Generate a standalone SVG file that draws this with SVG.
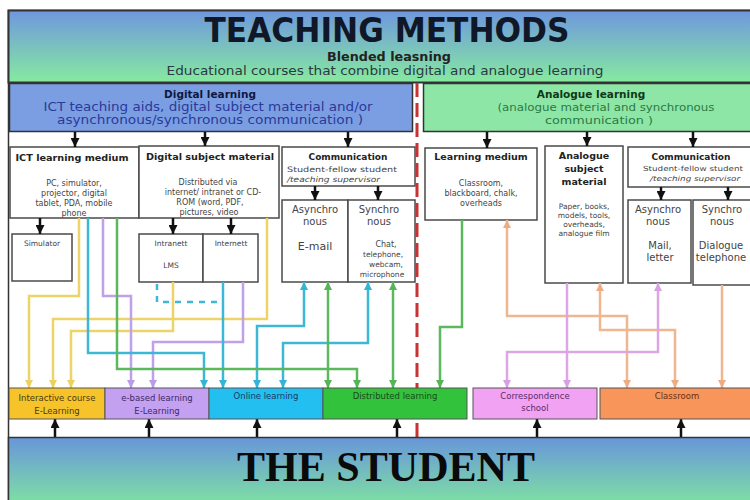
<svg xmlns="http://www.w3.org/2000/svg" width="750" height="500" viewBox="0 0 750 500">
<defs>
<linearGradient id="gHead" x1="0" y1="0" x2="0" y2="1"><stop offset="0" stop-color="#6f97de"/><stop offset="1" stop-color="#86eaa0"/></linearGradient>
<linearGradient id="gStu" x1="0" y1="0" x2="0" y2="1"><stop offset="0" stop-color="#6896da"/><stop offset="1" stop-color="#80e4a0"/></linearGradient>
<marker id="mk" viewBox="0 0 10 10" refX="10" refY="5" markerWidth="10" markerHeight="9" markerUnits="userSpaceOnUse" orient="auto"><path d="M0,0 L10,5 L0,10 z" fill="#111"/></marker>
<marker id="my" viewBox="0 0 10 10" refX="10" refY="5" markerWidth="8" markerHeight="8" markerUnits="userSpaceOnUse" orient="auto-start-reverse"><path d="M0,0 L10,5 L0,10 z" fill="#ecd060"/></marker>
<marker id="mp" viewBox="0 0 10 10" refX="10" refY="5" markerWidth="8" markerHeight="8" markerUnits="userSpaceOnUse" orient="auto-start-reverse"><path d="M0,0 L10,5 L0,10 z" fill="#bb9ae6"/></marker>
<marker id="mc" viewBox="0 0 10 10" refX="10" refY="5" markerWidth="8" markerHeight="8" markerUnits="userSpaceOnUse" orient="auto-start-reverse"><path d="M0,0 L10,5 L0,10 z" fill="#34b4d4"/></marker>
<marker id="mg" viewBox="0 0 10 10" refX="10" refY="5" markerWidth="8" markerHeight="8" markerUnits="userSpaceOnUse" orient="auto-start-reverse"><path d="M0,0 L10,5 L0,10 z" fill="#55b455"/></marker>
<marker id="mo" viewBox="0 0 10 10" refX="10" refY="5" markerWidth="8" markerHeight="8" markerUnits="userSpaceOnUse" orient="auto-start-reverse"><path d="M0,0 L10,5 L0,10 z" fill="#eeac84"/></marker>
<marker id="mq" viewBox="0 0 10 10" refX="10" refY="5" markerWidth="8" markerHeight="8" markerUnits="userSpaceOnUse" orient="auto-start-reverse"><path d="M0,0 L10,5 L0,10 z" fill="#d8a0e2"/></marker>
<style>
.box{fill:#fff;stroke:#4a4a4a;stroke-width:1.5}
.t{font-family:"DejaVu Sans","Liberation Sans",sans-serif;text-anchor:middle;fill:#444}
.b{font-weight:bold;fill:#222}
.blk{stroke:#111;stroke-width:2.5;fill:none;marker-end:url(#mk)}
.c{fill:none;stroke-width:2.5;stroke-linejoin:miter}
.y{stroke:#ecd468}
.p{stroke:#c0a0e8}
.cy{stroke:#3cb8d6}
.g{stroke:#5cb85c}
.o{stroke:#f0b690}
.q{stroke:#dca6e4}
.cat{stroke:#555;stroke-width:1}
</style>
</defs>
<rect width="750" height="500" fill="#fff"/>
<rect x="8.5" y="10.5" width="760" height="500" fill="none" stroke="#333" stroke-width="1.5"/>

<g id="header">
<rect x="8.5" y="10.5" width="760" height="72" fill="url(#gHead)" stroke="#333" stroke-width="2"/>
<text class="t" x="387" y="42" font-size="33" font-weight="bold" fill="#101828" style="fill:#101828" textLength="365" lengthAdjust="spacingAndGlyphs">TEACHING METHODS</text>
<text class="t b" x="389" y="61" font-size="11.5" textLength="124" lengthAdjust="spacingAndGlyphs">Blended leasning</text>
<text class="t" x="385" y="75" font-size="12" style="fill:#2a3a40" textLength="437" lengthAdjust="spacingAndGlyphs">Educational courses that combine digital and analogue learning</text>
</g>

<g id="digital-learning">
<rect x="9.5" y="83.5" width="403" height="48" fill="#7b9ee2" stroke="#333" stroke-width="1.5"/>
<text class="t b" x="210" y="98" font-size="10.5" style="fill:#101840">Digital learning</text>
<text class="t" x="208" y="111" font-size="11.5" style="fill:#2a3a9a" textLength="329" lengthAdjust="spacingAndGlyphs">ICT teaching aids, digital subject material and/or</text>
<text class="t" x="210" y="124" font-size="11.5" style="fill:#2a3a9a" textLength="306" lengthAdjust="spacingAndGlyphs">asynchronous/synchronous communication )</text>
</g>

<g id="analogue-learning">
<rect x="423.5" y="83.5" width="340" height="48" fill="#8ee6a6" stroke="#333" stroke-width="1.5"/>
<text class="t b" x="591" y="98" font-size="10.5" style="fill:#103818">Analogue learning</text>
<text class="t" x="606" y="111" font-size="11" style="fill:#2a7a44" textLength="217" lengthAdjust="spacingAndGlyphs">(analogue material and synchronous</text>
<text class="t" x="599" y="124" font-size="11" style="fill:#2a7a44" textLength="108" lengthAdjust="spacingAndGlyphs">communication )</text>
</g>

<g id="ict-learning-medium">
<rect class="box" x="10" y="147" width="129" height="71"/>
<text class="t b" x="72" y="161" font-size="9" textLength="113" lengthAdjust="spacingAndGlyphs">ICT learning medium</text>
<text class="t" x="74" y="186" font-size="8">PC, simulator,</text>
<text class="t" x="74" y="196" font-size="8">projector, digital</text>
<text class="t" x="74" y="206" font-size="8">tablet, PDA, mobile</text>
<text class="t" x="74" y="216" font-size="8">phone</text>
</g>

<g id="digital-subject-material">
<rect class="box" x="139" y="146" width="140" height="72"/>
<text class="t b" x="210" y="160" font-size="8.5" textLength="128" lengthAdjust="spacingAndGlyphs">Digital subject material</text>
<text class="t" x="208" y="185" font-size="8">Distributed via</text>
<text class="t" x="213" y="195" font-size="8">internet/ intranet or CD-</text>
<text class="t" x="210" y="205" font-size="8">ROM (word, PDF,</text>
<text class="t" x="209" y="215" font-size="8">pictures, video</text>
</g>

<g id="communication-digital">
<rect class="box" x="282" y="147" width="133" height="39"/>
<text class="t b" x="348" y="160" font-size="9">Communication</text>
<text class="t" x="287" y="172" font-size="7.5" style="text-anchor:start" textLength="110" lengthAdjust="spacingAndGlyphs">Student-fellow student</text>
<text class="t" x="287" y="182" font-size="7.5" style="text-anchor:start;font-style:italic" textLength="93" lengthAdjust="spacingAndGlyphs">/teaching supervisor</text>
</g>

<g id="simulator">
<rect class="box" x="12" y="234" width="60" height="47"/>
<text class="t" x="42" y="246" font-size="7.5">Simulator</text>
</g>

<g id="intranet">
<rect class="box" x="139" y="234" width="64" height="48"/>
<text class="t" x="171" y="246" font-size="7.5">Intranett</text>
<text class="t" x="171" y="268" font-size="7.5">LMS</text>
</g>

<g id="internet">
<rect class="box" x="203" y="234" width="55" height="48"/>
<text class="t" x="231" y="246" font-size="7.5">Internett</text>
</g>

<g id="asynchronous-digital">
<rect class="box" x="282" y="200" width="66" height="82"/>
<text class="t" x="315" y="213" font-size="10">Asynchro</text>
<text class="t" x="315" y="225" font-size="10">nous</text>
<text class="t" x="315" y="250" font-size="11">E-mail</text>
</g>

<g id="synchronous-digital">
<rect class="box" x="348" y="200" width="67" height="82"/>
<text class="t" x="379" y="213" font-size="10">Synchro</text>
<text class="t" x="379" y="225" font-size="10">nous</text>
<text class="t" x="386" y="247" font-size="8">Chat,</text>
<text class="t" x="383" y="257" font-size="7.5">telephone,</text>
<text class="t" x="386" y="267" font-size="7.5">webcam,</text>
<text class="t" x="382" y="277" font-size="7.5">microphone</text>
</g>

<g id="learning-medium">
<rect class="box" x="425" y="148" width="112" height="72"/>
<text class="t b" x="481" y="160" font-size="9.5">Learning medium</text>
<text class="t" x="481" y="186" font-size="8">Classroom,</text>
<text class="t" x="481" y="196" font-size="8">blackboard, chalk,</text>
<text class="t" x="481" y="206" font-size="8">overheads</text>
</g>

<g id="analogue-subject-material">
<rect class="box" x="545" y="146" width="78" height="137"/>
<text class="t b" x="584" y="159" font-size="9.5">Analogue</text>
<text class="t b" x="584" y="172" font-size="9.5">subject</text>
<text class="t b" x="584" y="185" font-size="9.5">material</text>
<text class="t" x="584" y="209" font-size="7.5">Paper, books,</text>
<text class="t" x="584" y="218" font-size="7.5">models, tools,</text>
<text class="t" x="584" y="227" font-size="7.5">overheads,</text>
<text class="t" x="584" y="236" font-size="7.5">analogue film</text>
</g>

<g id="communication-analogue">
<rect class="box" x="628" y="147" width="130" height="40"/>
<text class="t b" x="691" y="160" font-size="9">Communication</text>
<text class="t" x="693" y="171" font-size="7" textLength="100" lengthAdjust="spacingAndGlyphs">Student-fellow student</text>
<text class="t" x="695" y="181" font-size="7" style="font-style:italic" textLength="90" lengthAdjust="spacingAndGlyphs">/teaching supervisor</text>
</g>

<g id="asynchronous-analogue">
<rect class="box" x="628" y="200" width="63" height="83"/>
<text class="t" x="658" y="213" font-size="10">Asynchro</text>
<text class="t" x="658" y="225" font-size="10">nous</text>
<text class="t" x="660" y="249" font-size="10">Mail,</text>
<text class="t" x="660" y="261" font-size="10">letter</text>
</g>

<g id="synchronous-analogue">
<rect class="box" x="693" y="200" width="65" height="85"/>
<text class="t" x="722" y="213" font-size="10">Synchro</text>
<text class="t" x="722" y="225" font-size="10">nous</text>
<text class="t" x="721" y="249" font-size="10">Dialogue</text>
<text class="t" x="721" y="261" font-size="10">telephone</text>
</g>

<g id="connectors">
<line x1="417" y1="83" x2="417" y2="437" stroke="#c83232" stroke-width="3" stroke-dasharray="14 6"/>
<line class="blk" x1="75" y1="132" x2="75" y2="147"/>
<line class="blk" x1="205" y1="132" x2="205" y2="146"/>
<line class="blk" x1="348" y1="132" x2="348" y2="147"/>
<line class="blk" x1="487" y1="132" x2="487" y2="148"/>
<line class="blk" x1="587" y1="132" x2="587" y2="146"/>
<line class="blk" x1="693" y1="132" x2="693" y2="147"/>
<line class="blk" x1="40" y1="218" x2="40" y2="234"/>
<line class="blk" x1="173" y1="218" x2="173" y2="234"/>
<line class="blk" x1="231" y1="218" x2="231" y2="234"/>
<line class="blk" x1="315" y1="186" x2="315" y2="200"/>
<line class="blk" x1="378" y1="186" x2="378" y2="200"/>
<line class="blk" x1="661" y1="187" x2="661" y2="200"/>
<line class="blk" x1="728" y1="187" x2="728" y2="200"/>

<path class="c y" d="M79,218 V296 H29 V388" marker-end="url(#my)"/>
<path class="c y" d="M267,218 V319 H53 V388" marker-end="url(#my)"/>
<path class="c y" d="M173,282 V331 H71 V388" marker-end="url(#my)"/>
<path class="c p" d="M103,218 V296 H131 V388" marker-end="url(#mp)"/>
<path class="c p" d="M243,282 V342 H153 V388" marker-end="url(#mp)"/>
<path class="c cy" d="M88,218 V353 H204 V388" marker-end="url(#mc)"/>
<path class="c cy" d="M223,282 V388" marker-end="url(#mc)"/>
<path class="c cy" d="M304,282 V326 H257 V388" marker-start="url(#mc)" marker-end="url(#mc)"/>
<path class="c cy" d="M368,282 V343 H283 V388" marker-start="url(#mc)" marker-end="url(#mc)"/>
<path class="c cy" d="M157,284 V302 H221" stroke-dasharray="6 6"/>
<path class="c g" d="M117,218 V369 H357 V388" marker-end="url(#mg)"/>
<path class="c g" d="M328,282 V388" marker-start="url(#mg)" marker-end="url(#mg)"/>
<path class="c g" d="M393,282 V388" marker-start="url(#mg)" marker-end="url(#mg)"/>
<path class="c g" d="M462,220 V327 H440 V388" marker-end="url(#mg)"/>
<path class="c o" d="M507,220 V316 H627 V388" marker-start="url(#mo)" marker-end="url(#mo)"/>
<path class="c o" d="M600,283 V330 H675 V388" marker-start="url(#mo)" marker-end="url(#mo)"/>
<path class="c o" d="M722,285 V388" marker-end="url(#mo)"/>
<path class="c q" d="M567,283 V388" marker-end="url(#mq)"/>
<path class="c q" d="M658,283 V352 H507 V388" marker-start="url(#mq)" marker-end="url(#mq)"/>

<line class="blk" x1="55" y1="437" x2="55" y2="419"/>
<line class="blk" x1="149" y1="437" x2="149" y2="419"/>
<line class="blk" x1="257" y1="437" x2="257" y2="419"/>
<line class="blk" x1="397" y1="437" x2="397" y2="419"/>
<line class="blk" x1="537" y1="437" x2="537" y2="419"/>
<line class="blk" x1="681" y1="437" x2="681" y2="419"/>
</g>

<g id="interactive-course">
<rect class="cat" x="9" y="388" width="96" height="31" fill="#f6c42a"/>
<text class="t" x="57" y="401" font-size="8.5" style="fill:#4a3a10">Interactive course</text>
<text class="t" x="57" y="414" font-size="8.5" style="fill:#4a3a10">E-Learning</text>
</g>
<g id="e-based-learning">
<rect class="cat" x="105" y="388" width="104" height="31" fill="#c4a0f0"/>
<text class="t" x="157" y="401" font-size="8.5" style="fill:#3a2a6a">e-based learning</text>
<text class="t" x="157" y="414" font-size="8.5" style="fill:#3a2a6a">E-Learning</text>
</g>
<g id="online-learning">
<rect class="cat" x="209" y="388" width="114" height="31" fill="#22bff0"/>
<text class="t" x="266" y="399" font-size="8.5" style="fill:#1a3a6a">Online learning</text>
</g>
<g id="distributed-learning">
<rect class="cat" x="323" y="388" width="144" height="31" fill="#33c23c"/>
<text class="t" x="395" y="399" font-size="8.5" style="fill:#1a4a1a">Distributed learning</text>
</g>
<g id="correspondence-school">
<rect class="cat" x="473" y="388" width="124" height="31" fill="#f2a2f2"/>
<text class="t" x="535" y="399" font-size="8.5" style="fill:#5a2a6a">Correspondence</text>
<text class="t" x="535" y="411" font-size="8.5" style="fill:#5a2a6a">school</text>
</g>
<g id="classroom">
<rect class="cat" x="600" y="388" width="160" height="31" fill="#f8955a"/>
<text class="t" x="677" y="399" font-size="8.5" style="fill:#6a3010">Classroom</text>
</g>

<g id="the-student">
<rect x="8.5" y="437.5" width="760" height="70" fill="url(#gStu)" stroke="#333" stroke-width="1.5"/>
<text x="386" y="481" font-family="'Liberation Serif','Times New Roman',serif" font-weight="bold" font-size="42" text-anchor="middle" fill="#0a0a0a" textLength="298" lengthAdjust="spacingAndGlyphs">THE STUDENT</text>
</g>
</svg>
